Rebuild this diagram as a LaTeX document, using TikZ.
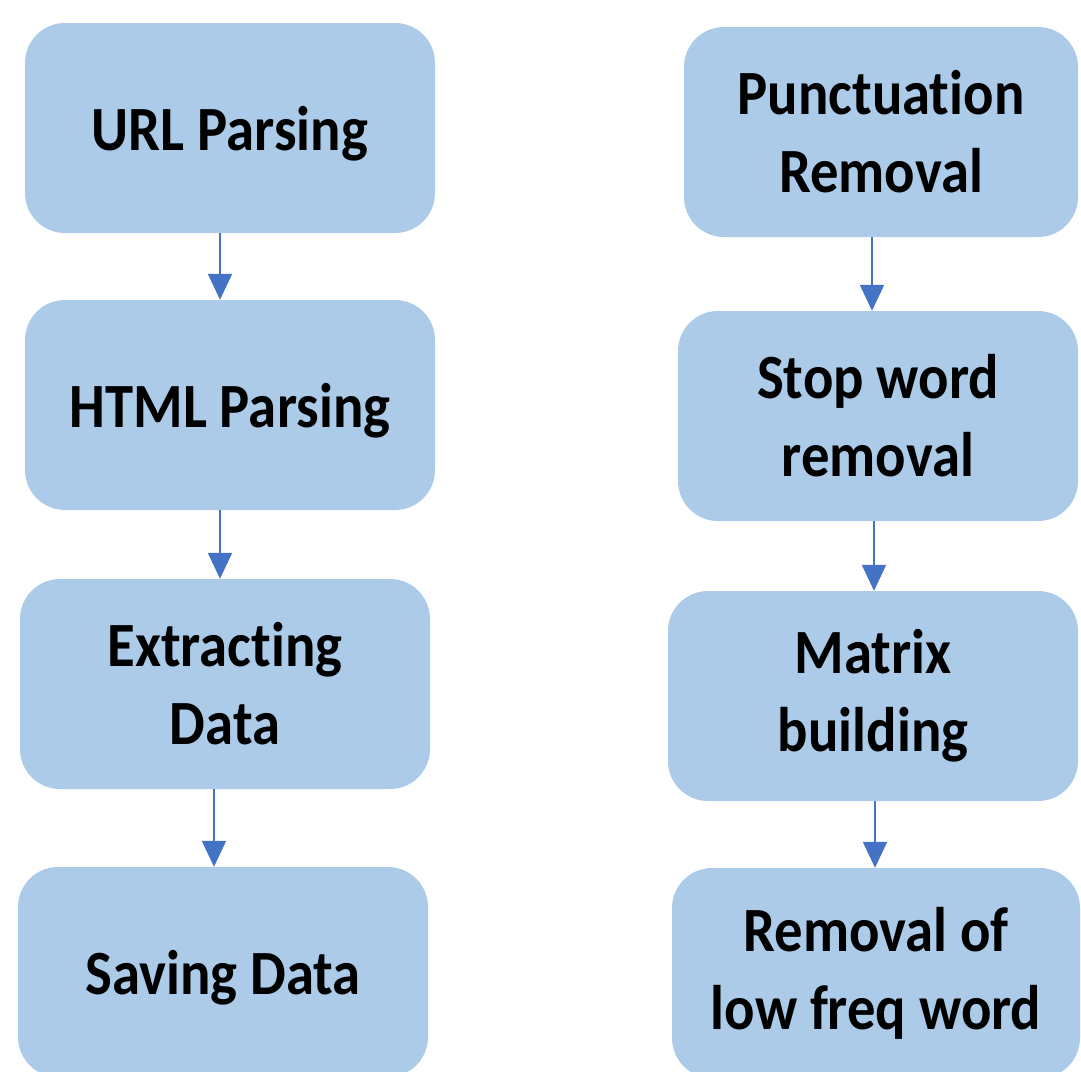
\documentclass[tikz,border=0pt]{standalone}
\usepackage{fontspec}
\setmainfont{Carlito}[Ligatures=NoCommon,FakeStretch=0.9]
\usepackage{tikz}
\usetikzlibrary{positioning,arrows.meta}
\definecolor{stepfill}{RGB}{171,203,233}
\definecolor{flowblue}{RGB}{68,114,196}

\begin{document}
\begin{tikzpicture}[x=1pt,y=-1pt,
  stage/.style={fill=stepfill,rounded corners=40pt,minimum width=410pt,
                minimum height=210pt,align=center,
                font=\fontsize{63}{78}\selectfont\bfseries},
  oneline/.style={text depth=0pt},
  flow/.style={color=flowblue,line width=2pt,-{Triangle[width=24pt,length=26pt]}}]
  \useasboundingbox (0,0) rectangle (1081,1071);
  % crawling side
  \node[stage,oneline] (url)  at (230,128) {URL Parsing};
  \node[stage,oneline] (html) at (230,405) {HTML Parsing};
  \node[stage] (ext)  at (225,684) {Extracting\\Data};
  \node[stage,oneline] (save) at (223,972) {Saving Data};
  \draw[flow] ([xshift=-10pt]url.south) -- ([xshift=-10pt]html.north);
  \draw[flow] ([xshift=-10pt]html.south) -- ([xshift=-5pt]ext.north);
  \draw[flow] ([xshift=-11pt]ext.south) -- ([xshift=-9pt]save.north);
  % text cleaning side
  \node[stage,minimum width=394pt] (punct) at (881,132) {Punctuation\\Removal};
  \node[stage,minimum width=400pt] (stop)  at (878,416) {Stop word\\removal};
  \node[stage] (mat) at (873,696) {Matrix\\building};
  \node[stage,minimum width=408pt] (low) at (876,973) {Removal of\\low freq word};
  \draw[flow] ([xshift=-9pt]punct.south) -- ([xshift=-6pt]stop.north);
  \draw[flow] ([xshift=-4pt]stop.south) -- ([xshift=1pt]mat.north);
  \draw[flow] ([xshift=2pt]mat.south) -- ([xshift=-1pt]low.north);
\end{tikzpicture}
\end{document}
